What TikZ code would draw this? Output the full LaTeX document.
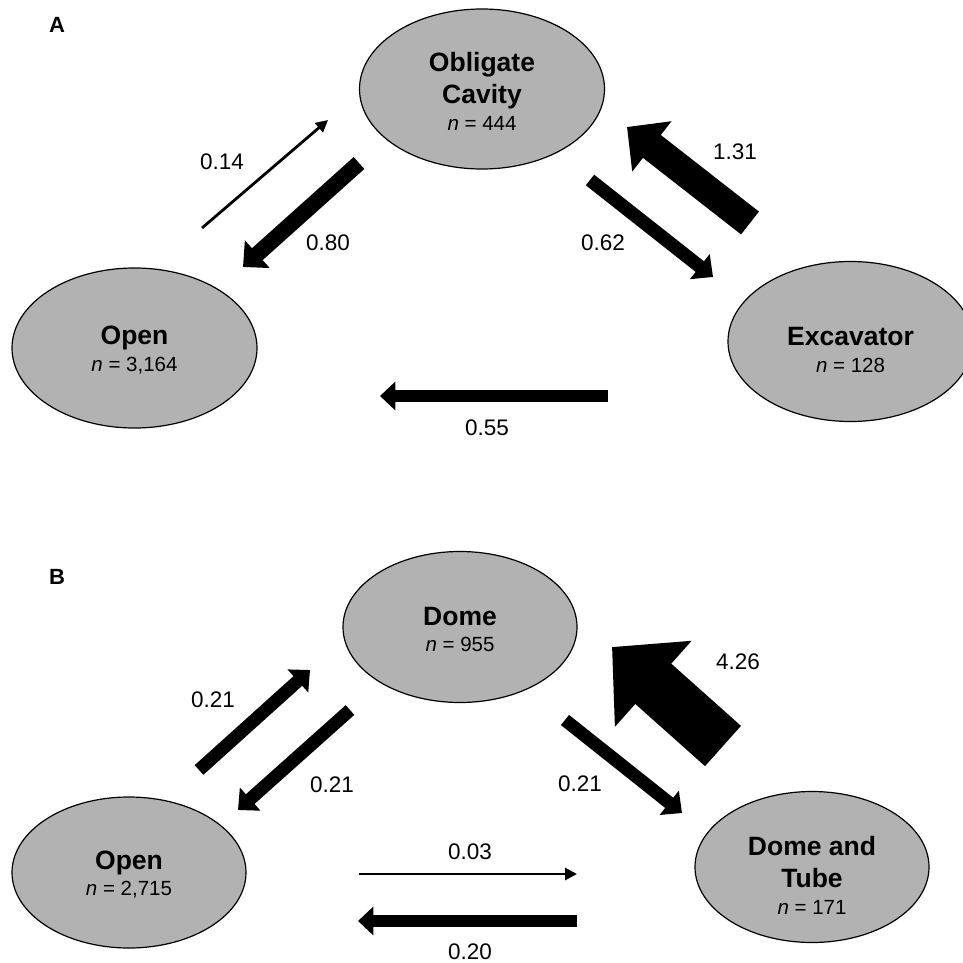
\documentclass[tikz,border=0pt]{standalone}
\usepackage{fontspec}
\setmainfont{Liberation Sans}
\usepackage{xcolor}
\usetikzlibrary{shapes.geometric,arrows.meta}

\definecolor{nestgray}{RGB}{178,178,178}
\newcommand{\ncount}[1]{{\fontsize{20.5}{24}\selectfont\mdseries\textit{n} = #1}}

\begin{document}
\begin{tikzpicture}[
    x=1pt, y=-1pt,
    nest/.style={ellipse, draw, line width=1.2pt, fill=nestgray, inner sep=0pt},
    nestA/.style={nest, minimum width=245pt, minimum height=160pt},
    nestB/.style={nest, minimum width=234pt, minimum height=151pt},
    nesttext/.style={align=center, inner sep=0pt, font=\fontsize{26.5}{32}\selectfont\bfseries},
    flux/.style={line width=#1, -{Triangle[length=4pt 0.95, width=4pt 2]}},
    thinflux/.style={line width=2.8pt, -{Triangle[length=12pt, width=12pt]}},
    lab/.style={font=\fontsize{22.5}{26}\selectfont},
    panel/.style={font=\fontsize{22}{26}\selectfont\bfseries}
]
\useasboundingbox (0,0) rectangle (962,963);

% panel A
\node [panel] (pA) at (57,25) {A};
\node [nestA] (cav) at (482,89) {};
\node [nestA] (openA) at (134.5,348) {};
\node [nestA] (exc) at (850.5,341.5) {};
\node [nesttext] (cavT) at ([yshift=-2pt]cav.center) {Obligate\\Cavity\\[-5pt]\ncount{444}};
\node [nesttext] (openAT) at ([yshift=-2pt]openA.center) {Open\\[-5pt]\ncount{3,164}};
\node [nesttext] (excT) at ([yshift=-8pt]exc.center) {Excavator\\[-5pt]\ncount{128}};

\coordinate (a1s) at (202,228); \coordinate (a1e) at (328,120);
\coordinate (a2s) at (359,163); \coordinate (a2e) at (243,267);
\coordinate (a3s) at (590,180); \coordinate (a3e) at (713,277);
\coordinate (a4s) at (750,223); \coordinate (a4e) at (627,127);
\coordinate (a5s) at (608,396); \coordinate (a5e) at (380,396);

\draw [thinflux] (a1s) -- (a1e);
\draw [flux=16pt] (a2s) -- (a2e);
\draw [flux=13.5pt] (a3s) -- (a3e);
\draw [flux=29pt] (a4s) -- (a4e);
\draw [flux=12pt] (a5s) -- (a5e);

\node [lab] (rA1) at (222,162) {0.14};
\node [lab] (rA2) at (328,243) {0.80};
\node [lab] (rA3) at (603,243) {0.62};
\node [lab] (rA4) at (735,152) {1.31};
\node [lab] (rA5) at (487,428) {0.55};

% panel B
\node [panel] (pB) at (57,577) {B};
\node [nestB] (dome) at (460,627) {};
\node [nestB] (openB) at (129,872.5) {};
\node [nestB] (tube) at (812,867) {};
\node [nesttext] (domeT) at ([yshift=-2pt]dome.center) {Dome\\[-6pt]\ncount{955}};
\node [nesttext] (openBT) at ([yshift=-2pt]openB.center) {Open\\[-6pt]\ncount{2,715}};
\node [nesttext] (tubeT) at ([yshift=-8pt]tube.center) {Dome and\\Tube\\[-5pt]\ncount{171}};

\coordinate (b1s) at (199,770); \coordinate (b1e) at (310,670);
\coordinate (b2s) at (350,710); \coordinate (b2e) at (238,810);
\coordinate (b3s) at (565,720); \coordinate (b3e) at (682,813);
\coordinate (b4s) at (723,746); \coordinate (b4e) at (612,647);
\coordinate (b5s) at (359,874); \coordinate (b5e) at (577,874);
\coordinate (b6s) at (577,921); \coordinate (b6e) at (358,921);

\draw [flux=13pt] (b1s) -- (b1e);
\draw [flux=13pt] (b2s) -- (b2e);
\draw [flux=13pt] (b3s) -- (b3e);
\draw [flux=54pt] (b4s) -- (b4e);
\draw [thinflux] (b5s) -- (b5e);
\draw [flux=12pt] (b6s) -- (b6e);

\node [lab] (rB1) at (213,700) {0.21};
\node [lab] (rB2) at (332,785) {0.21};
\node [lab] (rB3) at (580,784) {0.21};
\node [lab] (rB4) at (738,662) {4.26};
\node [lab] (rB5) at (470,852) {0.03};
\node [lab] (rB6) at (470,952) {0.20};

\end{tikzpicture}
\end{document}
